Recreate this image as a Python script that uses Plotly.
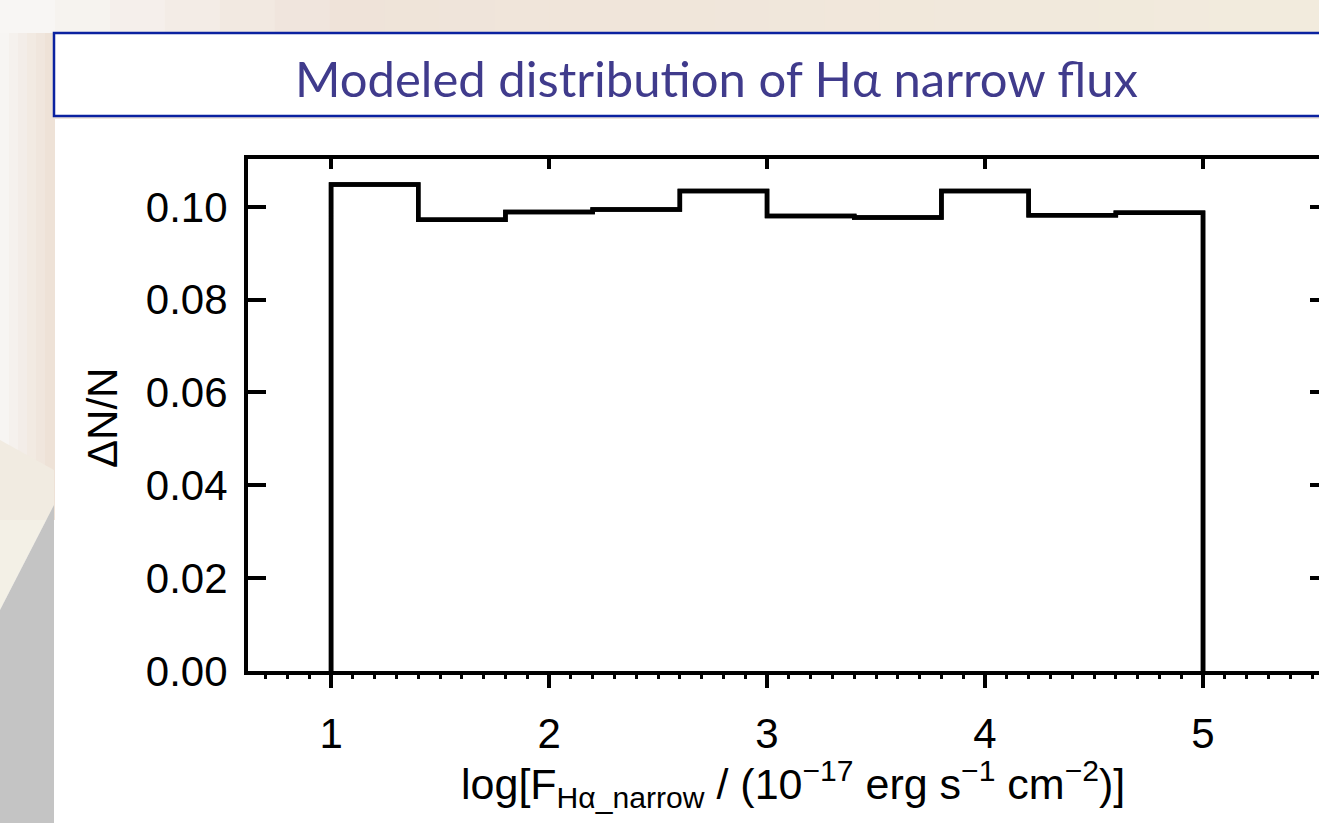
import plotly.graph_objects as go

W, H = 1319, 823
M_L, M_R, M_T, M_B = 248, 0, 159, 152
PLOT_W = W - M_L - M_R
PLOT_H = H - M_T - M_B

# Histogram of the modelled H-alpha narrow-line flux (10 bins of 0.4 dex)
bin_edges = [1.0, 1.4, 1.8, 2.2, 2.6, 3.0, 3.4, 3.8, 4.2, 4.6, 5.0]
dn_over_n = [0.1048, 0.0972, 0.0989, 0.0994, 0.1034,
             0.0980, 0.0977, 0.1034, 0.0982, 0.0987]

x_ticks = [1, 2, 3, 4, 5]
y_ticks = [0.00, 0.02, 0.04, 0.06, 0.08, 0.10]
y_tick_text = ["0.00", "0.02", "0.04", "0.06", "0.08", "0.10"]

title_text = "Modeled distribution of Hα narrow flux"
x_title = ("log[F<sub>Hα_narrow</sub> / (10<sup>−17</sup> erg s<sup>−1</sup> "
           "cm<sup>−2</sup>)]")
y_title = "ΔN/N"

X_RANGE = [0.619, 5.532]
Y_RANGE = [0.0, 0.1103]

# outline of the step histogram: rise at the first edge, drop at the last
step_x = [bin_edges[0]] + bin_edges[:-1] + [bin_edges[-1]]
step_y = [0.0] + dn_over_n + [0.0]

SANS = "Liberation Sans, Arial, Helvetica"
TICK_FONT = dict(family=SANS, size=42, color="black")
LABEL_FONT = dict(family=SANS, size=43, color="black")


def px(x):
    """page pixel column -> paper x (paper spans the plotting area)"""
    return (x - M_L) / PLOT_W


def py(y):
    """page pixel row -> paper y"""
    return (H - M_B - y) / PLOT_H


def hexmix(c1, c2, t):
    a = [int(c1[i:i + 2], 16) for i in (1, 3, 5)]
    b = [int(c2[i:i + 2], 16) for i in (1, 3, 5)]
    return "#" + "".join(f"{round(a[k] + (b[k] - a[k]) * t):02x}" for k in range(3))


def rect(x0, y0, x1, y1, fill, line=None, lw=0):
    return dict(type="rect", xref="paper", yref="paper",
                x0=px(x0), x1=px(x1), y0=py(y1), y1=py(y0),
                fillcolor=fill, line=dict(width=lw, color=line or fill),
                layer="below")


def poly(points, fill):
    path = "M " + " L ".join(f"{px(a)},{py(b)}" for a, b in points) + " Z"
    return dict(type="path", xref="paper", yref="paper", path=path,
                fillcolor=fill, line=dict(width=0), layer="below")


shapes = []
# soft slide background: top band
n = 24
for i in range(n):
    t = i / (n - 1)
    if t < 0.25:
        c = hexmix("#f8f6f4", "#efe3d9", t / 0.25)
    else:
        c = hexmix("#efe3d9", "#f2ebdd", (t - 0.25) / 0.75)
    shapes.append(rect(W * i / n, 0, W * (i + 1) / n + 1, 33, c))
# left band, upper part
for i in range(6):
    t = i / 5
    c = hexmix("#f7f5f3", "#eee2d7", t)
    shapes.append(rect(54 * i / 6, 33, 54 * (i + 1) / 6 + 1, 520, c))
shapes.append(poly([(0, 440), (54, 470), (54, 520), (0, 520)], "#f1ebe1"))
shapes.append(poly([(0, 520), (54, 520), (54, 505), (0, 610)], "#f3f0e6"))
shapes.append(poly([(0, 610), (54, 505), (54, 823), (0, 823)], "#c4c4c4"))
# thin strip under the title box
shapes.append(rect(54, 116, W + 5, 119, "#efe6dc"))
# title box
shapes.append(rect(54, 33, W + 10, 116, "white", line="#0b22a0", lw=2.5))

fig = go.Figure()
fig.add_trace(go.Scatter(
    x=step_x, y=step_y, mode="lines", line_shape="hv",
    line=dict(color="black", width=4.5),
    hoverinfo="skip", showlegend=False, cliponaxis=False,
))
# same outline on the overlay axes so the top/right tick sets are built
fig.add_trace(go.Scatter(
    x=step_x, y=step_y, xaxis="x2", yaxis="y2", mode="lines",
    line=dict(color="black", width=4.5), line_shape="hv",
    hoverinfo="skip", showlegend=False, cliponaxis=False,
))

fig.update_layout(
    width=W, height=H,
    margin=dict(l=M_L, r=M_R, t=M_T, b=M_B, pad=0),
    paper_bgcolor="white", plot_bgcolor="white",
    showlegend=False,
    shapes=shapes,
    xaxis=dict(
        range=X_RANGE, tickvals=x_ticks, ticktext=[str(v) for v in x_ticks],
        ticks="outside", ticklen=13, tickwidth=4, tickcolor="black",
        showline=True, linewidth=4, linecolor="black",
        showgrid=False, zeroline=False, tickfont=TICK_FONT,
        ticklabelstandoff=10,
        minor=dict(ticks="outside", ticklen=4, tickwidth=3, tickcolor="black",
                   dtick=0.1, tick0=0, showgrid=False),
    ),
    xaxis2=dict(
        range=X_RANGE, overlaying="x", side="top", anchor="y2",
        tickvals=x_ticks, ticks="inside", ticklen=10, tickwidth=4,
        tickcolor="black", showline=True, linewidth=4, linecolor="black",
        showticklabels=False, showgrid=False, zeroline=False,
    ),
    yaxis=dict(
        range=Y_RANGE, tickvals=y_ticks, ticktext=y_tick_text,
        ticks="inside", ticklen=18, tickwidth=4, tickcolor="black",
        showline=True, linewidth=4, linecolor="black",
        showgrid=False, zeroline=False, tickfont=TICK_FONT,
        ticklabelstandoff=8,
    ),
    yaxis2=dict(
        range=Y_RANGE, overlaying="y", side="right", anchor="x2",
        tickvals=y_ticks, ticks="inside", ticklen=9, tickwidth=4,
        tickcolor="black", showline=False, showticklabels=False,
        showgrid=False, zeroline=False,
    ),
    annotations=[
        dict(text=title_text, xref="paper", yref="paper",
             x=px(716), y=py(78), xanchor="center", yanchor="middle",
             showarrow=False,
             font=dict(family="Lato, Open Sans, sans-serif", size=49,
                       color="#403b8c")),
        dict(text=x_title, xref="paper", yref="paper",
             x=px(793), y=py(784), xanchor="center", yanchor="middle",
             showarrow=False, font=LABEL_FONT),
        dict(text=y_title, xref="paper", yref="paper", textangle=-90,
             x=px(102), y=py(418), xanchor="center", yanchor="middle",
             showarrow=False, font=TICK_FONT),
    ],
)

fig.write_html("out.html")
